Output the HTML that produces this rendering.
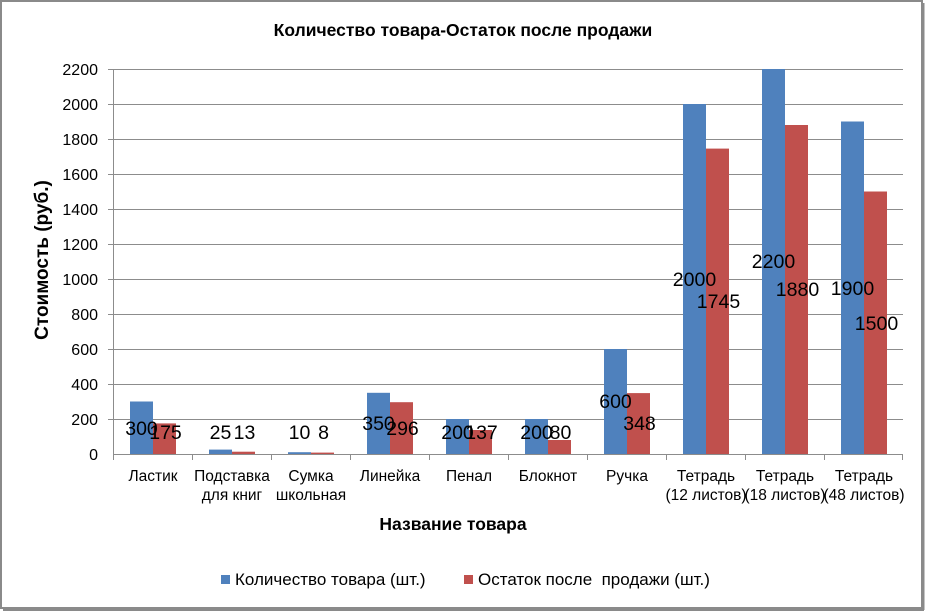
<!DOCTYPE html>
<html><head><meta charset="utf-8"><style>
html,body{margin:0;padding:0;background:#fff}
svg{display:block}
text{font-family:"Liberation Sans","DejaVu Sans",sans-serif;fill:#000}
</style></head><body>
<svg width="926" height="612" xmlns="http://www.w3.org/2000/svg">
<rect x="1" y="1" width="921" height="607" fill="#fff" stroke="#8a8a8a" stroke-width="2"/>
<line x1="923" y1="3" x2="923" y2="610" stroke="#8a8a8a" stroke-width="3"/>
<line x1="3" y1="609.5" x2="924" y2="609.5" stroke="#8a8a8a" stroke-width="3"/>
<text x="463" y="36" font-size="17.5" font-weight="bold" text-anchor="middle">Количество товара-Остаток  после продажи</text>
<g stroke="#8c8c8c" stroke-width="1">
<line x1="108" y1="69.5" x2="903" y2="69.5"/>
<line x1="108" y1="104.5" x2="903" y2="104.5"/>
<line x1="108" y1="139.5" x2="903" y2="139.5"/>
<line x1="108" y1="174.5" x2="903" y2="174.5"/>
<line x1="108" y1="209.5" x2="903" y2="209.5"/>
<line x1="108" y1="244.5" x2="903" y2="244.5"/>
<line x1="108" y1="279.5" x2="903" y2="279.5"/>
<line x1="108" y1="314.5" x2="903" y2="314.5"/>
<line x1="108" y1="349.5" x2="903" y2="349.5"/>
<line x1="108" y1="384.5" x2="903" y2="384.5"/>
<line x1="108" y1="419.5" x2="903" y2="419.5"/>
</g>
<g font-size="16" text-anchor="end">
<text x="98" y="75">2200</text><text x="98" y="110">2000</text><text x="98" y="145">1800</text>
<text x="98" y="180">1600</text><text x="98" y="215">1400</text><text x="98" y="250">1200</text>
<text x="98" y="285">1000</text><text x="98" y="320">800</text><text x="98" y="355">600</text>
<text x="98" y="390">400</text><text x="98" y="425">200</text><text x="98" y="460">0</text>
</g>
<text transform="translate(48,260) rotate(-90)" font-size="19" font-weight="bold" text-anchor="middle">Стоимость (руб.)</text>
<g fill="#4f81bd">
<rect x="130" y="401.5" width="23" height="52.5"/>
<rect x="209" y="449.6" width="23" height="4.4"/>
<rect x="288" y="452.2" width="23" height="1.8"/>
<rect x="367" y="392.8" width="23" height="61.2"/>
<rect x="446" y="419" width="23" height="35"/>
<rect x="525" y="419" width="23" height="35"/>
<rect x="604" y="349" width="23" height="105"/>
<rect x="683" y="104" width="23" height="350"/>
<rect x="762" y="69" width="23" height="385"/>
<rect x="841" y="121.5" width="23" height="332.5"/>
</g>
<g fill="#c0504d">
<rect x="153" y="423.4" width="23" height="30.6"/>
<rect x="232" y="451.7" width="23" height="2.3"/>
<rect x="311" y="452.6" width="23" height="1.4"/>
<rect x="390" y="402.2" width="23" height="51.8"/>
<rect x="469" y="430" width="23" height="24"/>
<rect x="548" y="440" width="23" height="14"/>
<rect x="627" y="393.1" width="23" height="60.9"/>
<rect x="706" y="148.6" width="23" height="305.4"/>
<rect x="785" y="125" width="23" height="329"/>
<rect x="864" y="191.5" width="23" height="262.5"/>
</g>
<g stroke="#8c8c8c" stroke-width="1">
<line x1="113.5" y1="69" x2="113.5" y2="454"/>
<line x1="113" y1="454.5" x2="903" y2="454.5"/>
<line x1="113.5" y1="454" x2="113.5" y2="460"/><line x1="192.5" y1="454" x2="192.5" y2="460"/>
<line x1="271.5" y1="454" x2="271.5" y2="460"/><line x1="350.5" y1="454" x2="350.5" y2="460"/>
<line x1="429.5" y1="454" x2="429.5" y2="460"/><line x1="508.5" y1="454" x2="508.5" y2="460"/>
<line x1="587.5" y1="454" x2="587.5" y2="460"/><line x1="666.5" y1="454" x2="666.5" y2="460"/>
<line x1="745.5" y1="454" x2="745.5" y2="460"/><line x1="824.5" y1="454" x2="824.5" y2="460"/>
<line x1="902.5" y1="454" x2="902.5" y2="460"/>
</g>
<g font-size="19.5" text-anchor="middle">
<text x="141.5" y="435">300</text><text x="165.5" y="439">175</text>
<text x="220.5" y="439">25</text><text x="244.5" y="439">13</text>
<text x="299.5" y="439">10</text><text x="323.5" y="439">8</text>
<text x="378.5" y="430">350</text><text x="402.5" y="435">296</text>
<text x="457.5" y="439">200</text><text x="481.5" y="439">137</text>
<text x="536.5" y="439">200</text><text x="560.5" y="439">80</text>
<text x="615.5" y="408">600</text><text x="639.5" y="430">348</text>
<text x="694.5" y="286">2000</text><text x="718.5" y="308">1745</text>
<text x="773.5" y="268">2200</text><text x="797.5" y="296">1880</text>
<text x="852.5" y="295">1900</text><text x="876.5" y="330">1500</text>
</g>
<g font-size="15.5" text-anchor="middle">
<text x="153" y="481">Ластик</text>
<text x="232" y="481">Подставка</text><text x="232" y="500">для книг</text>
<text x="311" y="481">Сумка</text><text x="311" y="500">школьная</text>
<text x="390" y="481">Линейка</text>
<text x="469" y="481">Пенал</text>
<text x="548" y="481">Блокнот</text>
<text x="627" y="481">Ручка</text>
<text x="706" y="481">Тетрадь</text><text x="706" y="500">(12 листов)</text>
<text x="785" y="481">Тетрадь</text><text x="785" y="500">(18 листов)</text>
<text x="864" y="481">Тетрадь</text><text x="864" y="500">(48 листов)</text>
</g>
<text x="453" y="530" font-size="17.5" font-weight="bold" text-anchor="middle">Название товара</text>
<rect x="221" y="575" width="9" height="9" fill="#4f81bd"/>
<text x="235" y="585" font-size="17">Количество товара (шт.)</text>
<rect x="464" y="575" width="9" height="9" fill="#c0504d"/>
<text x="478" y="585" font-size="17" xml:space="preserve">Остаток после  продажи (шт.)</text>
</svg>
</body></html>
